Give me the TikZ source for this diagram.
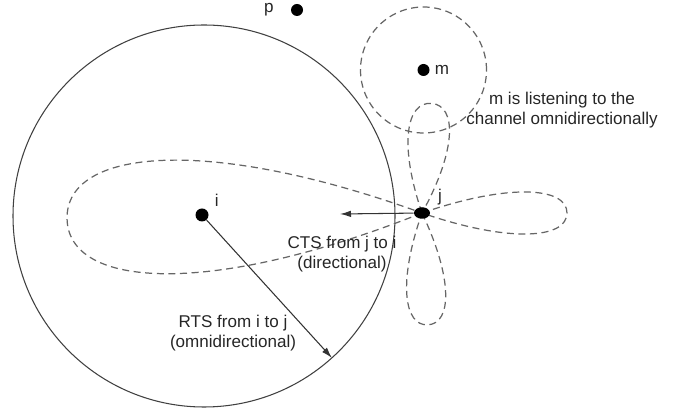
\documentclass[tikz,border=0pt]{standalone}
\usepackage{fontspec}
\setmainfont{Liberation Sans}
\usetikzlibrary{arrows.meta,positioning,calc,shapes.geometric}
% one antenna lobe leaving (jpos): angle, length, half-width
\newcommand{\lobe}[3]{%
  \begin{scope}[shift={(jpos)}, rotate=#1]
    \draw[beam] (0,0) .. controls (0.6*#2,1.5*#3) and (#2,1.3*#3) .. (#2,0)
                      .. controls (#2,-1.3*#3) and (0.6*#2,-1.5*#3) .. (0,0);
  \end{scope}}

\begin{document}
\begin{tikzpicture}[font=\fontsize{9.7}{11.6}\selectfont, >={Latex[length=2.2mm, width=1.3mm]}]
  \tikzset{dot/.style={circle, fill=black, inner sep=0, minimum size=#1},
           dot/.default=2.4mm,
           beam/.style={dashed, dash pattern=on 4pt off 2.6pt, gray!80!black, line width=0.7pt},
           txt/.style={align=center, text=black!85, inner sep=1pt}}
  \useasboundingbox (0,0) rectangle (13.6,-8.24);

  % transmission range of i
  \draw[black!75, line width=0.6pt] (4.08,-4.32) circle[radius=3.82];

  % listening range of m
  \coordinate (mpos) at (8.47,-1.40);
  \draw[beam] (mpos) circle[radius=1.26];

  % directional pattern of j
  \coordinate (jpos) at (8.44,-4.26);
  \lobe{180.9}{7.1}{1.08}
  \lobe{0}{2.9}{0.40}
  \lobe{-87}{2.24}{0.37}
  \lobe{85}{2.2}{0.39}

  % stations
  \node[dot=2.6mm] (i) at (4.04,-4.30) {};
  \node[dot] (p) at (5.94,-0.20) {};
  \node[dot] (m) at (mpos) {};
  \node[ellipse, fill=black, inner sep=0, minimum width=3.2mm, minimum height=2.3mm] (j) at (jpos) {};

  \node[txt, above right=0.3mm and 1.2mm of i] {i};
  \node[txt, left=3mm of p] {p};
  \node[txt, right=0.6mm of m] {m};
  \node[txt, above right=0.4mm and 1.6mm of j] {j};

  % control frames
  \coordinate (rtsend) at (6.64,-7.16);
  \coordinate (ctsend) at (6.80,-4.28);
  \draw[->, black!80, line width=0.6pt] (i) -- (rtsend);
  \draw[->, black!80, line width=0.6pt] (j) -- (ctsend);

  \node[txt] at (4.66,-6.66) {RTS from i to j\\(omnidirectional)};
  \node[txt] at (6.84,-5.08) {CTS from j to i\\(directional)};
  \node[txt] at (11.24,-2.20) {m is listening to the\\channel omnidirectionally};
\end{tikzpicture}
\end{document}
